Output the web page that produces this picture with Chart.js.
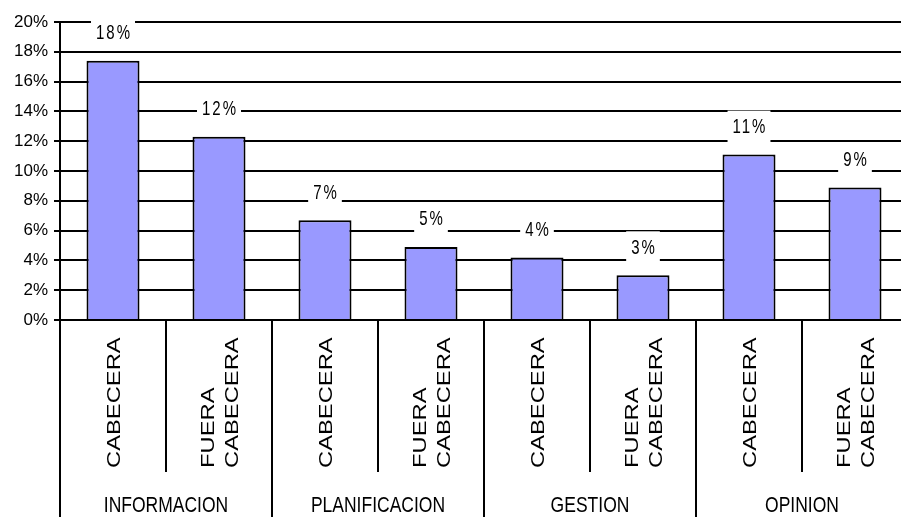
<!DOCTYPE html>
<html>
<head>
<meta charset="utf-8">
<script src="https://cdn.jsdelivr.net/npm/chart.js@4"></script>
<style>
html,body{margin:0;padding:0;overflow:hidden;background:#fff;}
canvas{display:block;}
</style>
</head>
<body>
<canvas id="c" width="908" height="517"></canvas>
<script>
// ---- data ----
const categories = ['CABECERA', 'FUERA CABECERA', 'CABECERA', 'FUERA CABECERA', 'CABECERA', 'FUERA CABECERA', 'CABECERA', 'FUERA CABECERA'];
const subLabels = [['CABECERA'], ['FUERA', 'CABECERA'], ['CABECERA'], ['FUERA', 'CABECERA'], ['CABECERA'], ['FUERA', 'CABECERA'], ['CABECERA'], ['FUERA', 'CABECERA']];
const groups = ['INFORMACION', 'PLANIFICACION', 'GESTION', 'OPINION'];
const values = [17.4, 12.3, 6.7, 4.9, 4.2, 3.0, 11.1, 8.9];
const valueLabels = ['18%', '12%', '7%', '5%', '4%', '3%', '11%', '9%'];
const yMin = 0, yMax = 20, yStep = 2;

const FONT = "'Liberation Sans', Arial, sans-serif";

const multiLevelAxis = {
  id: 'multiLevelAxis',
  afterDraw(chart) {
    const ctx = chart.ctx;
    const xs = chart.scales.x;
    const top = xs.top;
    const H = chart.height;
    ctx.save();
    // separators
    ctx.strokeStyle = '#000';
    ctx.lineWidth = 2;
    for (let i = 0; i <= categories.length; i++) {
      const x = Math.round(xs.getPixelForValue(i - 0.5));
      const isGroup = i % 2 === 0;
      ctx.beginPath();
      ctx.moveTo(x, top);
      ctx.lineTo(x, isGroup ? H : 472);
      ctx.stroke();
    }
    // rotated sub labels
    ctx.fillStyle = '#000';
    ctx.font = '19px ' + FONT;
    ctx.textAlign = 'left';
    ctx.textBaseline = 'alphabetic';
    subLabels.forEach((lines, i) => {
      const cx = xs.getPixelForValue(i);
      const n = lines.length;
      lines.forEach((line, j) => {
        const lx = cx + (j - (n - 1) / 2) * 23.5;
        ctx.save();
        ctx.translate(lx, 468);
        ctx.rotate(-Math.PI / 2);
        ctx.scale(1.25, 1);
        ctx.fillText(line, 0, 6.8);
        ctx.restore();
      });
    });
    // group labels
    ctx.font = '17.5px ' + FONT;
    ctx.textAlign = 'center';
    groups.forEach((g, k) => {
      const gx = (xs.getPixelForValue(2 * k) + xs.getPixelForValue(2 * k + 1)) / 2;
      ctx.save();
      ctx.translate(gx, 512);
      ctx.scale(1, 1.3);
      ctx.fillText(g, 0, 0);
      ctx.restore();
    });
    ctx.restore();
  },
  afterDatasetsDraw(chart) {
    const ctx = chart.ctx;
    const meta = chart.getDatasetMeta(0);
    ctx.save();
    ctx.font = '15px ' + FONT;
    try { ctx.letterSpacing = '2px'; } catch (e) {}
    ctx.textAlign = 'center';
    ctx.textBaseline = 'alphabetic';
    meta.data.forEach((bar, i) => {
      const txt = valueLabels[i];
      const cy = bar.y - 29;
      const w = ctx.measureText(txt).width + 8;
      ctx.fillStyle = '#fff';
      ctx.fillRect(bar.x - w / 2, cy - 15, w, 32);
      ctx.fillStyle = '#000';
      ctx.save();
      ctx.translate(bar.x + 1, cy + 7.5);
      ctx.scale(1, 1.4);
      ctx.fillText(txt, 0, 0);
      ctx.restore();
    });
    ctx.restore();
  }
};

new Chart(document.getElementById('c'), {
  type: 'bar',
  data: {
    labels: categories,
    datasets: [{
      data: values,
      backgroundColor: '#9999ff',
      borderColor: '#000',
      borderWidth: 2,
      categoryPercentage: 1.0,
      barPercentage: 0.5
    }]
  },
  options: {
    responsive: false,
    animation: false,
    devicePixelRatio: 1,
    layout: { padding: { top: 22, left: 0, right: 0, bottom: 0 } },
    plugins: { legend: { display: false }, tooltip: { enabled: false } },
    scales: {
      x: {
        ticks: { display: false },
        grid: { display: false },
        border: { display: true, color: '#000', width: 2 },
        afterFit(scale) { scale.height = 197; }
      },
      y: {
        min: yMin,
        max: yMax,
        ticks: {
          stepSize: yStep,
          callback: v => v + '%',
          color: '#000',
          padding: 6,
          font: { family: FONT, size: 17 }
        },
        grid: { color: '#000', lineWidth: 2, tickLength: 6 },
        border: { display: true, color: '#000', width: 2 },
        afterFit(scale) { scale.width = 60; }
      }
    }
  },
  plugins: [multiLevelAxis]
});
</script>
</body>
</html>
